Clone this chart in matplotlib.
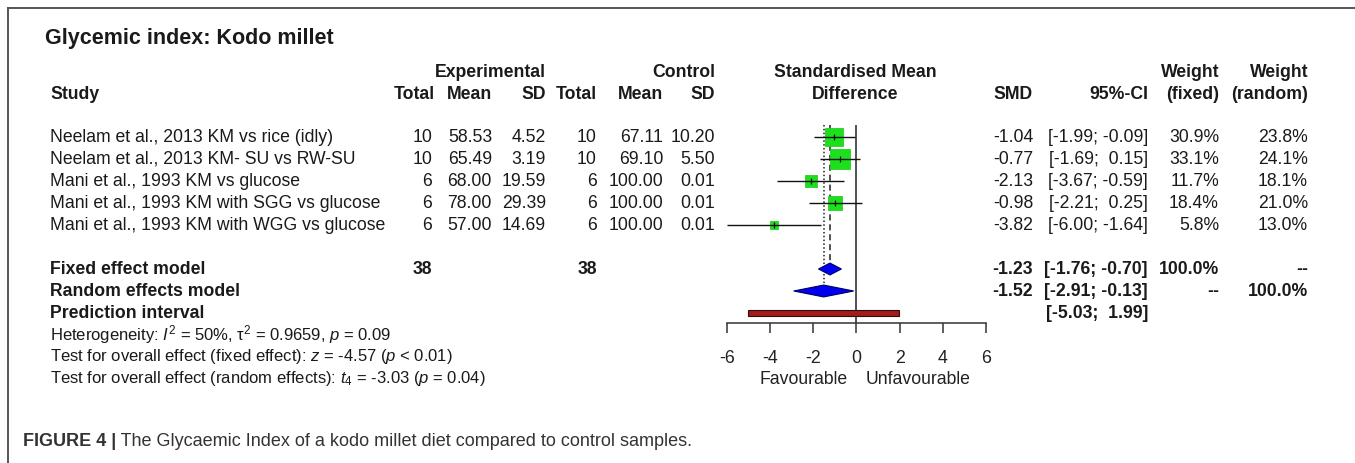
import matplotlib
matplotlib.use("Agg")
import matplotlib.pyplot as plt
from matplotlib.lines import Line2D
from matplotlib.patches import Polygon

plt.rcParams['font.family'] = ['Liberation Sans', 'DejaVu Sans']
plt.rcParams['mathtext.fontset'] = 'custom'
plt.rcParams['mathtext.rm'] = 'Liberation Sans'
plt.rcParams['mathtext.it'] = 'Liberation Sans:italic'

# data
studies = ["Neelam et al., 2013 KM vs rice (idly)",
           "Neelam et al., 2013 KM- SU vs RW-SU",
           "Mani et al., 1993 KM vs glucose",
           "Mani et al., 1993 KM with SGG vs glucose",
           "Mani et al., 1993 KM with WGG vs glucose"]
exp_n = [10, 10, 6, 6, 6]
exp_mean = [58.53, 65.49, 68.00, 78.00, 57.00]
exp_sd = [4.52, 3.19, 19.59, 29.39, 14.69]
ctrl_n = [10, 10, 6, 6, 6]
ctrl_mean = [67.11, 69.10, 100.00, 100.00, 100.00]
ctrl_sd = [10.20, 5.50, 0.01, 0.01, 0.01]
smd = [-1.04, -0.77, -2.13, -0.98, -3.82]
ci_low = [-1.99, -1.69, -3.67, -2.21, -6.00]
ci_high = [-0.09, 0.15, -0.59, 0.25, -1.64]
w_fixed = [30.9, 33.1, 11.7, 18.4, 5.8]
w_random = [23.8, 24.1, 18.1, 21.0, 13.0]
exp_total = 38
ctrl_total = 38
fixed_smd, fixed_low, fixed_high = -1.23, -1.76, -0.70
random_smd, random_low, random_high = -1.52, -2.91, -0.13
pred_low, pred_high = -5.03, 1.99
xticks = [-6, -4, -2, 0, 2, 4, 6]

W, H = 1355, 463
fig = plt.figure(figsize=(W / 100, H / 100), dpi=100)
fig.patch.set_facecolor('white')

# rows: 22 px apart, first study at y=137 px
row_top = -137 / 22
row_bot = (H - 137) / 22
ax = fig.add_axes([0, 0, 1, 1])
ax.set_xlim(0, W)
ax.set_ylim(row_bot, row_top)
ax.axis('off')

fx = fig.add_axes([727 / W, 0, 259 / W, 1])
fx.set_xlim(-6, 6)
fx.set_ylim(row_bot, row_top)
fx.patch.set_visible(False)
for s in ['left', 'right', 'top']:
    fx.spines[s].set_visible(False)
fx.spines['bottom'].set_position(('data', 8.45))
fx.spines['bottom'].set_color('#333333')
fx.spines['bottom'].set_linewidth(1.1)
fx.set_yticks([])
fx.set_xticks(xticks)
fx.set_xticklabels([str(t) for t in xticks])
fx.tick_params(axis='x', direction='out', length=7.2, width=1.1, color='#333333',
               labelsize=12.8, labelcolor='#222222', pad=12.5)

fs = 12.7
tc = '#1a1a1a'

# frame
fig.add_artist(Line2D([8 / W, 1], [1 - 8 / H, 1 - 8 / H], color='#555555', lw=1.4))
fig.add_artist(Line2D([8 / W, 8 / W], [0, 1 - 8 / H], color='#555555', lw=1.4))

ax.text(45, -4.5, "Glycemic index: Kodo millet", fontsize=15.5, fontweight='bold',
        color=tc, va='center', ha='left')

# headers
h1, h2 = -2.91, -1.95
hdr = dict(fontsize=fs, fontweight='bold', color=tc, va='center')
ax.text(50, h2, "Study", ha='left', **hdr)
ax.text(546, h1, "Experimental", ha='right', **hdr)
ax.text(715, h1, "Control", ha='right', **hdr)
for x, lab in [(435, "Total"), (492, "Mean"), (546, "SD"),
               (597, "Total"), (663, "Mean"), (715, "SD"),
               (1033, "SMD"), (1148, "95%-CI"), (1219, "(fixed)"), (1308, "(random)")]:
    ax.text(x, h2, lab, ha='right', **hdr)
ax.text(1219, h1, "Weight", ha='right', **hdr)
ax.text(1308, h1, "Weight", ha='right', **hdr)
ax.text(855, h1, "Standardised Mean", ha='center', **hdr)
ax.text(855, h2, "Difference", ha='center', **hdr)


def ci_str(lo, hi):
    return "[{:.2f}; {}]".format(lo, "{:.2f}".format(hi) if hi < 0 else " " + "{:.2f}".format(hi))


cell = dict(fontsize=fs, color=tc, va='center', ha='right')
for i in range(len(studies)):
    ax.text(50, i, studies[i], fontsize=fs, color=tc, va='center', ha='left')
    ax.text(432, i, str(exp_n[i]), **cell)
    ax.text(492, i, "{:.2f}".format(exp_mean[i]), **cell)
    ax.text(546, i, "{:.2f}".format(exp_sd[i]), **cell)
    ax.text(597, i, str(ctrl_n[i]), **cell)
    ax.text(663, i, "{:.2f}".format(ctrl_mean[i]), **cell)
    ax.text(715, i, "{:.2f}".format(ctrl_sd[i]), **cell)
    ax.text(1033, i, "{:.2f}".format(smd[i]), **cell)
    ax.text(1148, i, ci_str(ci_low[i], ci_high[i]), **cell)
    ax.text(1219, i, "{:.1f}%".format(w_fixed[i]), **cell)
    ax.text(1308, i, "{:.1f}%".format(w_random[i]), **cell)

    ms = 14.0 * (w_fixed[i] / max(w_fixed)) ** 0.5
    fx.plot(smd[i], i, marker='s', ms=ms, color='#1be01b', mec='#2ccc2c', mew=0.6,
            zorder=3, clip_on=False)
    fx.hlines(i, ci_low[i], ci_high[i], color='#111111', lw=1.0, zorder=4, clip_on=False)
    fx.plot(smd[i], i, marker='|', ms=5, color='#111111', mew=0.9, zorder=5)

# pooled rows
rf, rr, rp = 6, 7, 8
bold_cell = dict(cell, fontweight='bold')
ax.text(50, rf, "Fixed effect model", fontsize=fs, fontweight='bold', color=tc, va='center')
ax.text(50, rr, "Random effects model", fontsize=fs, fontweight='bold', color=tc, va='center')
ax.text(50, rp, "Prediction interval", fontsize=fs, fontweight='bold', color=tc, va='center')
ax.text(432, rf, str(exp_total), **bold_cell)
ax.text(597, rf, str(ctrl_total), **bold_cell)
ax.text(1033, rf, "{:.2f}".format(fixed_smd), **bold_cell)
ax.text(1148, rf, ci_str(fixed_low, fixed_high), **bold_cell)
ax.text(1219, rf, "100.0%", **bold_cell)
ax.text(1308, rf, "--", **bold_cell)
ax.text(1033, rr, "{:.2f}".format(random_smd), **bold_cell)
ax.text(1148, rr, ci_str(random_low, random_high), **bold_cell)
ax.text(1219, rr, "--", **bold_cell)
ax.text(1308, rr, "100.0%", **bold_cell)
ax.text(1148, rp, ci_str(pred_low, pred_high), **bold_cell)

dh = 0.27
for r, est, lo, hi in [(rf, fixed_smd, fixed_low, fixed_high),
                       (rr, random_smd, random_low, random_high)]:
    fx.add_patch(Polygon([(lo, r), (est, r - dh), (hi, r), (est, r + dh)],
                         closed=True, fc='#0000ee', ec='#000066', lw=0.8, zorder=3))
fx.barh(rp, pred_high - pred_low, left=pred_low, height=0.24, color='#a11c1c',
        edgecolor='#3a0a0a', lw=0.8, zorder=3)

# reference and pooled lines
fx.vlines(0, -0.55, 8.45, color='#222222', lw=1.1, zorder=2)
fx.vlines(fixed_smd, -0.55, rf - dh, color='#222222', lw=1.1, linestyles=(0, (4, 2.5)), zorder=2)
fx.vlines(random_smd, -0.55, rr - dh, color='#222222', lw=1.1, linestyles=(0, (1, 1.5)), zorder=2)

fx.text(-0.4, 11, "Favourable", fontsize=fs, color='#222222', ha='right', va='center')
fx.text(0.4, 11, "Unfavourable", fontsize=fs, color='#222222', ha='left', va='center')

# heterogeneity / tests
sfs = 12.0
ax.text(50, 9, r"Heterogeneity: $I^2$ = 50%, τ$^2$ = 0.9659, $p$ = 0.09",
        fontsize=sfs, color=tc, va='center')
ax.text(50, 10, r"Test for overall effect (fixed effect): $z$ = -4.57 ($p$ < 0.01)",
        fontsize=sfs, color=tc, va='center')
ax.text(50, 11, r"Test for overall effect (random effects): $t_4$ = -3.03 ($p$ = 0.04)",
        fontsize=sfs, color=tc, va='center')

# caption
cap = ax.text(23, 13.86, "FIGURE 4 |", fontsize=13.0, fontweight='bold', color='#333333',
              va='center', ha='left')
ax.annotate(" The Glycaemic Index of a kodo millet diet compared to control samples.",
            xy=(1, 0), xycoords=cap, va='bottom', ha='left', fontsize=13.0, color='#333333')

fig.savefig("out.png", dpi=100)
